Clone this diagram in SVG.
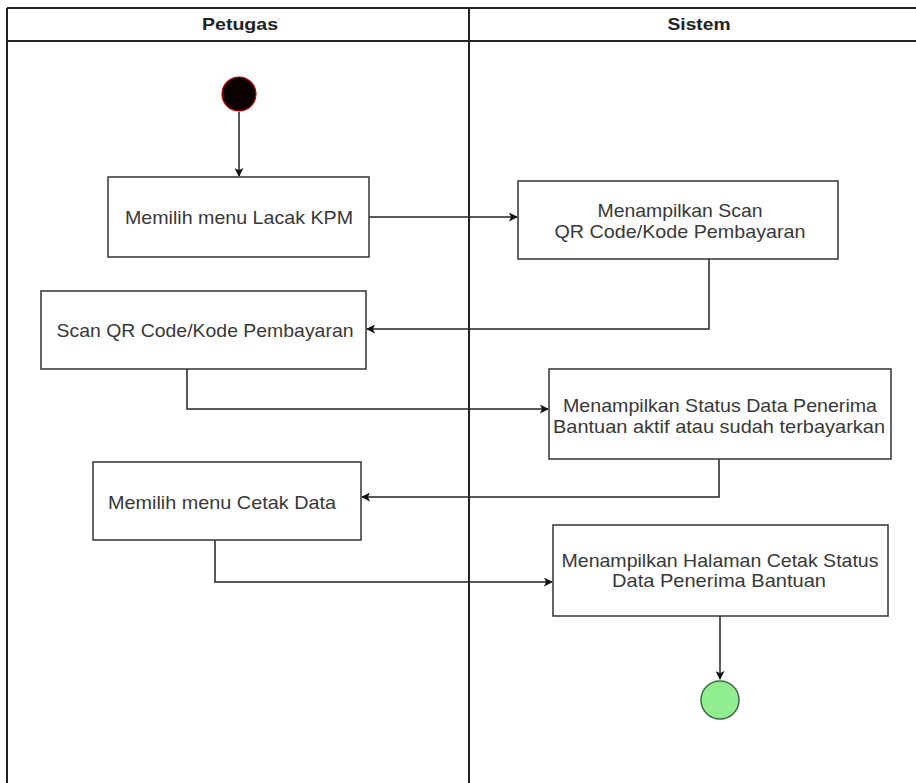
<svg xmlns="http://www.w3.org/2000/svg" width="916" height="783" viewBox="0 0 916 783">
<defs>
<style>
.lane{stroke:#222;stroke-width:2;fill:none}
.box{fill:#fff;stroke:#333;stroke-width:1.5}
.t{font-family:"Liberation Sans",Arial,sans-serif;font-size:19px;fill:#383838;text-anchor:middle}
.h{font-family:"Liberation Sans",Arial,sans-serif;font-size:17px;font-weight:bold;fill:#222;text-anchor:middle}
.c{stroke:#222;stroke-width:1.5;fill:none;marker-end:url(#arr)}
</style>
<marker id="arr" viewBox="0 0 10 10" refX="9" refY="5" markerWidth="9" markerHeight="9" markerUnits="userSpaceOnUse" orient="auto">
<path d="M0,0 L10,5 L0,10 L2.5,5 Z" fill="#111"/>
</marker>
</defs>
<rect width="916" height="783" fill="#fff"/>
<g id="lanes">
<line class="lane" x1="7" y1="8" x2="916" y2="8"/>
<line class="lane" x1="7" y1="41" x2="916" y2="41"/>
<line class="lane" x1="7" y1="8" x2="7" y2="783"/>
<line class="lane" x1="469" y1="8" x2="469" y2="783"/>
<text class="h" x="240" y="30" textLength="76" lengthAdjust="spacingAndGlyphs">Petugas</text>
<text class="h" x="699" y="30" textLength="63" lengthAdjust="spacingAndGlyphs">Sistem</text>
</g>
<g id="connectors">
<path class="c" d="M239,112 L239,176"/>
<path class="c" d="M369,217 L517,217"/>
<path class="c" d="M709,259 L709,329 L367,329"/>
<path class="c" d="M187,369 L187,409 L548,409"/>
<path class="c" d="M719,459 L719,497 L362,497"/>
<path class="c" d="M215,540 L215,582 L552,582"/>
<path class="c" d="M720,616 L720,679"/>
</g>
<g id="start"><circle cx="239" cy="94" r="17" fill="#0a0000" stroke="#c00000" stroke-width="1.2"/></g>
<g id="n1"><rect class="box" x="108" y="177" width="261" height="80"/><text class="t" x="239" y="224" textLength="228" lengthAdjust="spacingAndGlyphs">Memilih menu Lacak KPM</text></g>
<g id="n2"><rect class="box" x="518" y="181" width="320" height="78"/><text class="t" x="680" y="217" textLength="165" lengthAdjust="spacingAndGlyphs">Menampilkan Scan</text><text class="t" x="680" y="238" textLength="251" lengthAdjust="spacingAndGlyphs">QR Code/Kode Pembayaran</text></g>
<g id="n3"><rect class="box" x="41" y="291" width="325" height="78"/><text class="t" x="205" y="337" textLength="297" lengthAdjust="spacingAndGlyphs">Scan QR Code/Kode Pembayaran</text></g>
<g id="n4"><rect class="box" x="549" y="369" width="342" height="90"/><text class="t" x="720" y="412" textLength="314" lengthAdjust="spacingAndGlyphs">Menampilkan Status Data Penerima</text><text class="t" x="719" y="433" textLength="332" lengthAdjust="spacingAndGlyphs">Bantuan aktif atau sudah terbayarkan</text></g>
<g id="n5"><rect class="box" x="93" y="462" width="268" height="78"/><text class="t" x="222" y="509" textLength="228" lengthAdjust="spacingAndGlyphs">Memilih menu Cetak Data</text></g>
<g id="n6"><rect class="box" x="553" y="525" width="335" height="91"/><text class="t" x="720" y="567" textLength="317" lengthAdjust="spacingAndGlyphs">Menampilkan Halaman Cetak Status</text><text class="t" x="719" y="587" textLength="214" lengthAdjust="spacingAndGlyphs">Data Penerima  Bantuan</text></g>
<g id="end"><circle cx="720" cy="700" r="19" fill="#90ee90" stroke="#446644" stroke-width="1.5"/></g>
</svg>
